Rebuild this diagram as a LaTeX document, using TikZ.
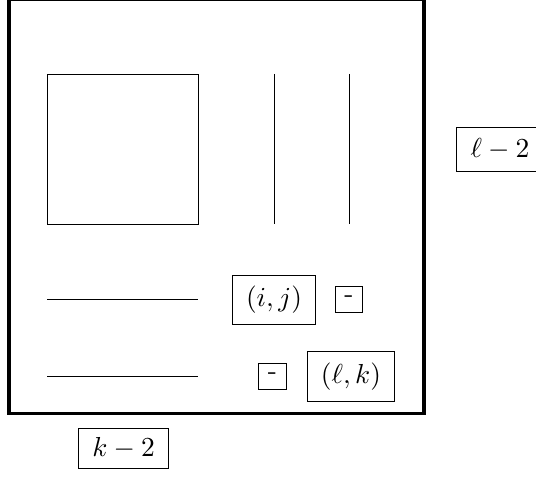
\documentclass[tikz,border=0pt]{standalone}
\usetikzlibrary{positioning}

\begin{document}
\begin{tikzpicture}[x=0.364pt, y=-0.364pt, line width=0.35pt,
    lbl/.style={draw, inner xsep=5pt, inner ysep=4pt},
    dash box/.style={draw, inner sep=3.4pt},
    frame/.style={draw, line width=1.25pt}
  ]
  \useasboundingbox (0,0) rectangle (536,478);

  % outer frame and its contents
  \draw[frame] (9,-1) rectangle (424,413.5);
  \draw (47,74) rectangle (198,224);
  \draw (274,74) -- (274,224);
  \draw (349,74) -- (349,224);
  \draw (47,299) -- (198,299);
  \draw (47,376) -- (198,376);

  % labels
  \node[lbl] (ij) at (274,300) {$(i,j)$};
  \node[dash box] (d1) at (349,299.5) {-};
  \node[dash box] (d2) at (272.5,376.5) {-};
  \node[lbl] (lk) at (351,376.5) {$(\ell,k)$};
  \node[lbl, minimum height=15.6pt] (l2) at (500,149.5) {$\ell-2$};
  \node[lbl, inner ysep=3.33pt] (k2) at (123.5,448.5) {$k-2$};

\end{tikzpicture}
\end{document}
